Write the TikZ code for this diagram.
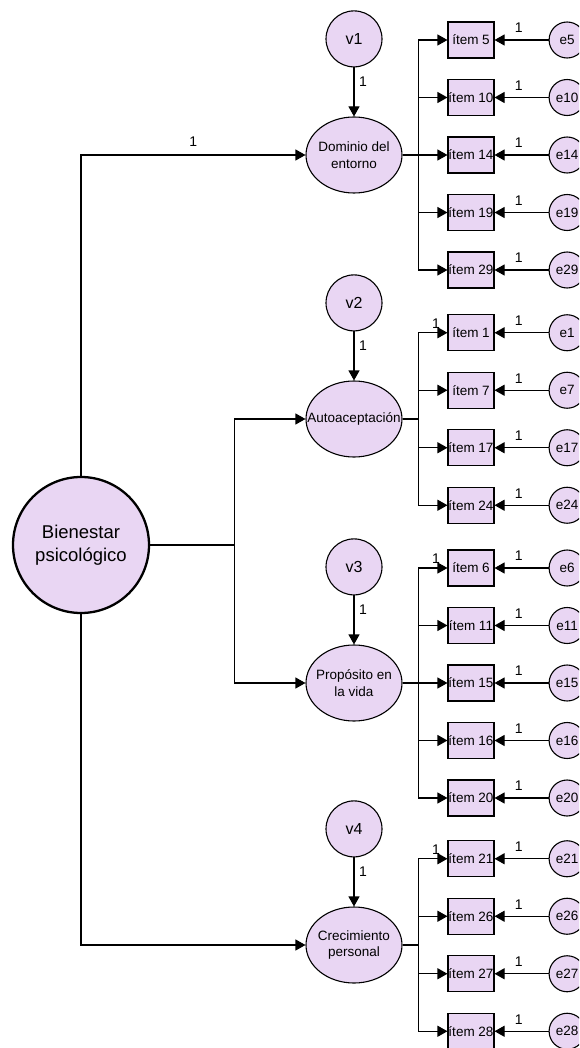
\documentclass[tikz,border=0pt]{standalone}
\usepackage{fontspec}
\setmainfont{Liberation Sans}
\usetikzlibrary{shapes.geometric, positioning, arrows.meta}
\definecolor{lila}{RGB}{233,214,243}
\tikzset{
    >={Triangle[length=10pt,width=11pt]}, % filled heads as in the reference
    every node/.style={font=\fontsize{13.5}{16.5}\selectfont}, % all small texts
    general/.style={circle, draw, line width=2.3pt, fill=lila, minimum size=136, inner sep=0pt, align=center, font=\fontsize{18.5}{23}\selectfont},
    factor/.style={ellipse, draw, fill=lila, minimum width=96, minimum height=76, inner sep=0pt, label={[align=center]center:#1}},
    resid/.style={circle, draw, fill=lila, minimum size=56, inner sep=0pt, font=\fontsize{16}{19}\selectfont},
    item/.style={rectangle, draw, fill=lila, minimum width=46, minimum height=36, inner sep=0pt},
    err/.style={circle, draw, fill=lila, minimum size=36, inner sep=0pt},
    lbl/.style={inner sep=1.5pt, font=\fontsize{14}{16}\selectfont}, % the fixed loadings
}
\begin{document}
\begin{tikzpicture}[x=1pt, y=-1pt, line width=1.1pt]
\useasboundingbox (0,0) rectangle (579,1048);
\clip (0,0) rectangle (579,1048);
% second order factor and first order factors
\node[general] (bien) at (81,545) {Bienestar\\psicológico};
\node[factor={Dominio del\\entorno}] (f1) at (354,155) {};
\node[factor=Autoaceptación] (f2) at (354,419) {};
\node[factor={Propósito en\\la vida}] (f3) at (354,683) {};
\node[factor={Crecimiento\\personal}] (f4) at (354,945) {};
\foreach \f in {1,...,4} {
    \node[resid, above=49pt of f\f] (v\f) {v\f};
    \draw[->] (v\f) -- node[lbl, right=3pt, pos=0.3] {1} (f\f);
}
% paths from the general factor
\draw[->] (bien.north) |- node[lbl, pos=0.75, above=6pt] {1} (f1.west);
\draw (bien.east) -- ++(84,0) coordinate (jn);
\draw[->] (jn) |- (f2.west);
\draw[->] (jn) |- (f3.west);
\draw[->] (bien.south) |- (f4.west);
% items and their errors
\foreach \f/\items/\n in {1/{5,10,14,19,29}/5, 2/{1,7,17,24}/4, 3/{6,11,15,16,20}/5, 4/{21,26,27,28}/4} {
    \draw (f\f.east) -- ++(16,0) coordinate (b\f);
    \foreach \i [count=\k] in \items {
        \node[item] (i\i) at ([shift={(117,{(\k-(\n+1)/2)*57.5})}] f\f) {ítem \i};
        \node[err, right=54pt of i\i] (e\i) {e\i};
        \draw[->] (b\f) |- (i\i.west);
        \draw[->] (e\i) -- node[lbl, pos=0.55, above=5pt] {1} (i\i);
    }
}
\foreach \f/\i in {2/1, 3/6, 4/21}
    \path (b\f) |- node[lbl, pos=0.8, above=2pt] {1} (i\i.west);
\end{tikzpicture}
\end{document}
